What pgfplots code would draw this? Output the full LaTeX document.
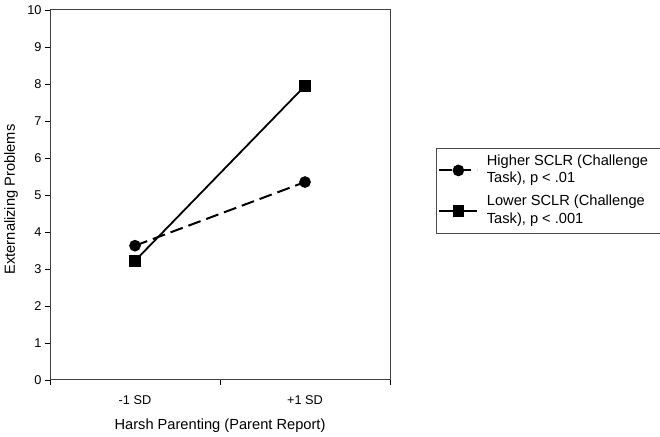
\documentclass[border=0pt]{standalone}
\usepackage{pgfplots}
\pgfplotsset{compat=1.18}
\usepackage{fontspec}
\setmainfont{Liberation Sans}
\begin{document}
\begin{tikzpicture}[x=1bp,y=1bp]
\path[use as bounding box] (0,0) rectangle (660,437);
\begin{axis}[
  at={(50bp,57bp)}, anchor=south west,
  scale only axis, width=340bp, height=370bp,
  xmin=0, xmax=2, ymin=0, ymax=10,
  ytick={0,1,...,10},
  xtick={0.5,1.5}, xticklabels={-1 SD,+1 SD},
  minor xtick={0,1,2},
  major x tick style={draw=none},
  tick align=outside,
  major tick length=5bp, minor tick length=5bp,
  ytick pos=left, xtick pos=bottom,
  axis line style={black!75, line width=1bp},
  tick style={black, line width=0.8bp},
  /pgf/number format/assume math mode=true,
  tick label style={font=\fontsize{12.8}{14}\selectfont},
  x tick label style={yshift=-7bp},
  every axis x label/.style={at={(axis description cs:0.5,0)}, anchor=base, yshift=-50bp},
  every axis y label/.style={at={(axis description cs:-0.103,0.488)}, rotate=90, anchor=base},
  label style={font=\fontsize{14.7}{17}\selectfont},
  xlabel={Harsh Parenting (Parent Report)},
  ylabel={Externalizing Problems},
  clip=false,
  legend style={at={(rel axis cs:1.135,0.627)}, anchor=north west,
    draw=black!70, line width=1bp, inner xsep=2bp, inner ysep=2.5bp,
    font=\fontsize{14.7}{18}\selectfont,
    nodes={inner sep=1.5bp, text depth=},
    row sep=2bp, column sep=7bp},
  legend cell align=left,
  legend image code/.code={%
    \draw[mark repeat=2,mark phase=2,#1] plot coordinates {(0bp,0bp) (19bp,0bp) (38bp,0bp)};},
]
\addplot[black, line width=2bp, dash pattern=on 13bp off 6bp, mark=*, mark size=4.8bp, mark options={solid, fill=black}]
  coordinates {(0.5,3.63) (1.5,5.35)};
\addlegendentry{\begin{tabular}[t]{@{}l@{\hspace{20bp}}}Higher SCLR (Challenge\\Task), p < .01\end{tabular}}
\addplot[black, line width=1.8bp, mark=square*, mark size=5bp, mark options={solid, fill=black}]
  coordinates {(0.5,3.22) (1.5,7.95)};
\addlegendentry{\begin{tabular}[t]{@{}l@{\hspace{20bp}}}Lower SCLR (Challenge\\Task), p < .001\end{tabular}}
\end{axis}
\end{tikzpicture}
\end{document}
